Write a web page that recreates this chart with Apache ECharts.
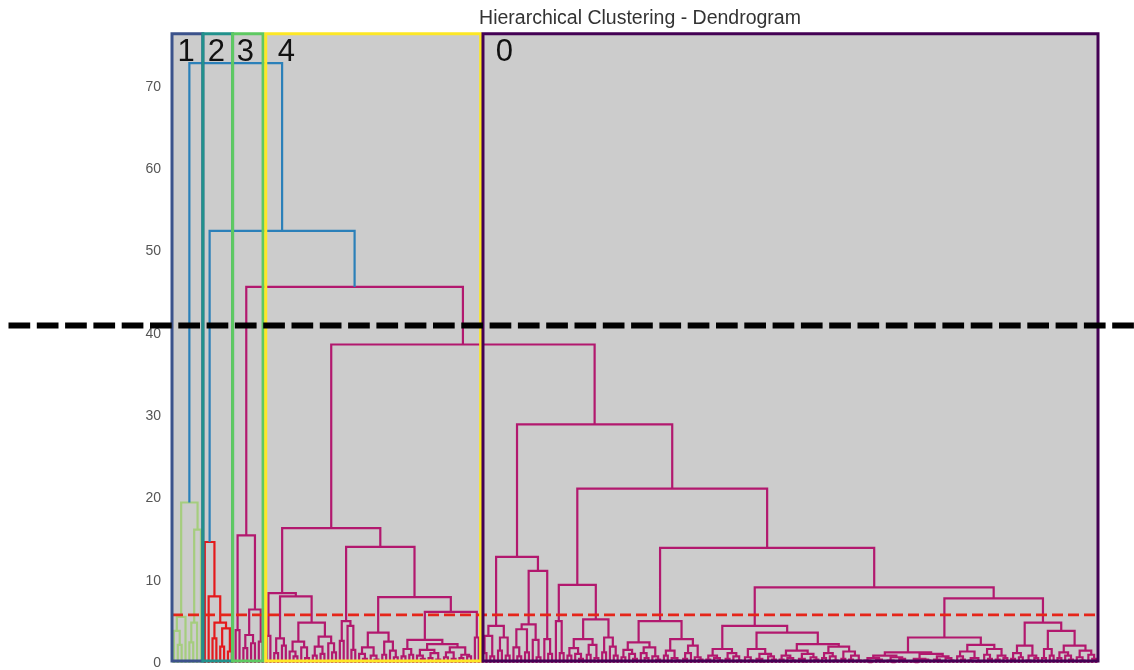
<!DOCTYPE html>
<html>
<head>
<meta charset="utf-8">
<script src="https://cdn.jsdelivr.net/npm/echarts@6/dist/echarts.min.js"></script>
<style>
html,body{margin:0;padding:0;background:#ffffff;}
#chart{width:1134px;height:670px;}
</style>
</head>
<body>
<div id="chart"></div>
<script>
// ---------------- data ----------------
const chartTitle = 'Hierarchical Clustering - Dendrogram';
const yTicks = [0, 10, 20, 30, 40, 50, 60, 70];
const yMax = 76.55;

// merge heights joining the clusters (root first)
const upperMergeHeights = [72.9, 52.5, 45.7, 38.7];
const colorThreshold = 51.0;

// dendrogram subtrees: [height, left, right], 0 = a leaf
const cluster1Tree = [19.5, [5.6, [3.9, 0, [2.2, 0, 0]], 0], [16.2, [4.9, [2.5, 0, 0], 0], 0]];
const cluster2Tree = [14.7, 0, [8.1, 0, [4.9, [3.0, 0, 0], [4.2, [2.0, 0, 0], [1.4, 0, 0]]]]];
const cluster3Tree = [15.5, [4.0, 0, 0], [6.5, [3.4, [1.8, 0, 0], [2.4, 0, 0]], [2.6, 0, 0]]];

const c4P = [8.5, [3.3, 0, 0],
  [8.1, [3.0, [1.2, 0, 0], [2.1, 0, 0]],
        [4.9, [2.6, [1.4, 0, [0.8, 0, 0]], [1.9, 0, [0.6, 0, 0]]],
              [3.2, [2.0, [0.9, 0, 0], [1.1, 0, 0]], [2.4, 0, [1.3, 0, 0]]]]]];
const c4Q1 = [5.1, [2.7, 0, 0], [4.5, 0, [1.6, 0, 0]]];
const c4Q2a = [3.7, [1.9, [1.1, 0, [0.5, 0, 0]], [0.9, 0, [0.4, 0, 0]]],
                    [2.6, [1.0, 0, 0], [1.5, 0, [0.7, 0, 0]]]];
const c4Q2b = [6.2, [2.8, [1.7, [0.8, 0, 0], [1.0, 0, 0]],
                          [2.3, [1.6, [0.9, 0, [0.5, 0, 0]], [1.2, [0.6, 0, 0], [0.4, 0, 0]]],
                                [1.9, [1.3, [0.7, 0, 0], [0.5, 0, 0]], [1.0, [0.6, 0, 0], [0.8, 0, 0]]]]],
                    [3.1, 0, 0]];
const cluster4Tree = [16.4, c4P, [14.1, c4Q1, [8.0, c4Q2a, c4Q2b]]];

const c0A1 = [4.5, [3.3, [1.2, 0, 0], [0.8, 0, 0]], [3.1, [1.5, 0, 0], [0.9, 0, 0]]];
const c0A2 = [11.2, [4.7, [4.1, [1.9, 0, [0.8, 0, 0]], [1.3, 0, 0]], [2.8, 0, [0.7, 0, 0]]],
                    [2.9, 0, [1.1, 0, 0]]];
const c0B1 = [9.5, [5.1, 0, [1.2, 0, 0]],
                   [5.3, [2.9, [1.8, [0.9, 0, 0], [1.1, 0, [0.5, 0, 0]]], [2.2, [1.0, 0, 0], [0.6, 0, 0]]],
                         [3.1, [1.3, 0, 0], [2.0, 0, [0.9, 0, 0]]]]];
const c0B2a = [5.1, [2.5, [1.6, [0.7, 0, 0], [1.1, 0, [0.5, 0, 0]]], [1.9, [1.2, 0, [0.6, 0, 0]], [0.8, 0, [0.4, 0, 0]]]],
                    [2.9, [1.5, [0.9, 0, 0], [0.6, 0, [0.3, 0, 0]]], [2.1, [1.2, [0.5, 0, 0], 0], [0.7, 0, [0.4, 0, 0]]]]];
const c0B2bL = [4.5, [1.7, [0.9, [0.4, 0, 0], [0.6, 0, [0.3, 0, 0]]], [1.2, [0.5, 0, 0], [0.8, 0, [0.3, 0, 0]]]],
                     [3.7, [1.7, [0.7, 0, [0.3, 0, 0]], [1.1, [0.5, 0, [0.2, 0, 0]], [0.8, 0, [0.4, 0, 0]]]],
                           [2.3, [1.5, [0.9, [0.4, 0, 0], [0.6, 0, [0.3, 0, 0]]], [1.1, [0.5, 0, [0.2, 0, 0]], [0.7, 0, [0.4, 0, 0]]]],
                                 [2.0, [1.2, [0.6, 0, 0], [0.8, 0, [0.3, 0, 0]]], [1.4, [0.5, 0, 0], [0.9, [0.4, 0, 0], [0.3, 0, 0]]]]]]];
const c0B2bR1 = [3.1, [1.3, [0.9, [0.6, [0.3, 0, [0.1, 0, 0]], [0.4, 0, [0.2, 0, 0]]], [0.7, [0.3, 0, [0.1, 0, 0]], [0.5, 0, [0.2, 0, 0]]]],
                            [1.1, [0.5, [0.2, 0, [0.1, 0, 0]], [0.4, 0, [0.3, 0, 0]]], [0.8, [0.4, 0, [0.2, 0, 0]], [0.6, 0, [0.3, 0, 0]]]]],
                      [2.2, [1.4, [0.8, 0, [0.4, 0, 0]], [0.6, [0.3, 0, 0], [0.2, 0, 0]]], [1.7, [1.0, 0, [0.5, 0, 0]], [0.9, [0.4, 0, 0], [0.6, 0, 0]]]]];
const c0B2bR2 = [4.9, [2.1, [1.2, [0.5, 0, 0], [0.7, 0, 0]], [0.9, [0.3, 0, 0], [0.6, 0, 0]]],
                      [3.9, [1.7, [0.6, 0, 0], [0.9, 0, 0]],
                            [2.1, [1.3, [0.6, 0, 0], [0.9, 0, [0.4, 0, 0]]], [1.5, [0.7, 0, [0.3, 0, 0]], [1.0, 0, [0.5, 0, 0]]]]]];
const cluster0Tree = [29.0, [12.9, c0A1, c0A2],
                            [21.2, c0B1, [14.0, c0B2a, [9.2, c0B2bL, [7.85, c0B2bR1, c0B2bR2]]]]];

// colours
const aboveThresholdColor = '#2b80b9';
const clusterLinkColors = ['#a5cd7e', '#e41a1c', '#b2186e'];
const redCut = 5.85;
const redCutColor = '#e5261a';
const blackCut = 41.0;

// cluster annotation boxes (x range in leaf units), drawn in this order
const clusterNames = ['1', '2', '3', '4', '0'];
const clusterBoxes = [[0, 8.0], [8.0, 15.7], [15.7, 23.6], [24.3, 80.0], [80.6, 240]];
const boxColors = ['#3b528b', '#21918c', '#5ec962', '#fde725', '#440154'];
const boxYRange = [0.25, 76.45];
const labelAnchors = [[1.43, 74.18], [9.28, 74.18], [16.8, 74.18], [27.4, 74.18], [83.9, 74.18]];

// ---------------- build links ----------------
const fullTree = [upperMergeHeights[0], cluster1Tree,
  [upperMergeHeights[1], cluster2Tree,
    [upperMergeHeights[2], cluster3Tree,
      [upperMergeHeights[3], cluster4Tree, cluster0Tree]]]];

const links = [];
const palette = [aboveThresholdColor].concat(clusterLinkColors);
let leafCounter = 0;
let subtreeCounter = 0;
function walk(node, colorIdx) {
  if (node === 0) {
    const x = leafCounter + 0.5;
    leafCounter++;
    return { x: x, h: 0 };
  }
  const h = node[0];
  let c = colorIdx;
  if (c === 0 && h <= colorThreshold) {
    subtreeCounter++;
    c = subtreeCounter;
  }
  const L = walk(node[1], c);
  const R = walk(node[2], c);
  links.push([L.x, L.h, R.x, R.h, h, c]);
  return { x: (L.x + R.x) / 2, h: h };
}
walk(fullTree, 0);
const leafCount = leafCounter;

// ---------------- chart ----------------
const chart = echarts.init(document.getElementById('chart'), null, { renderer: 'canvas' });
const gridLeft = 172, gridRight = 36, gridTop = 33, gridBottom = 6;
const fontFam = '"Liberation Sans", Arial, sans-serif';

chart.setOption({
  animation: false,
  backgroundColor: '#ffffff',
  title: {
    text: chartTitle,
    left: gridLeft + (1134 - gridLeft - gridRight) / 2,
    top: 4,
    textAlign: 'center',
    textStyle: { fontSize: 19.5, fontWeight: 'normal', color: '#333333', fontFamily: fontFam }
  },
  grid: {
    left: gridLeft, right: gridRight, top: gridTop, bottom: gridBottom,
    show: true, backgroundColor: '#cccccc', borderWidth: 0
  },
  xAxis: { type: 'value', min: 0, max: leafCount, show: false },
  yAxis: {
    type: 'value', min: yTicks[0], max: yMax, interval: yTicks[1] - yTicks[0],
    axisLine: { show: false }, axisTick: { show: false }, splitLine: { show: false },
    axisLabel: { showMaxLabel: false, fontSize: 14, color: '#555555', margin: 11, fontFamily: fontFam }
  },
  series: [
    {
      type: 'custom', name: 'dendrogram', z: 2, silent: true,
      encode: { x: [0, 2], y: [1, 4] },
      data: links,
      renderItem: function (params, api) {
        const x1 = api.value(0), h1 = api.value(1), x2 = api.value(2), h2 = api.value(3), h = api.value(4);
        const pts = [api.coord([x1, h1]), api.coord([x1, h]), api.coord([x2, h]), api.coord([x2, h2])];
        return {
          type: 'polyline', shape: { points: pts },
          style: { stroke: palette[api.value(5)], lineWidth: 2.2, fill: 'none' }
        };
      }
    },
    {
      type: 'line', name: 'colour cut', z: 3, silent: true, showSymbol: false, symbol: 'none',
      data: [[0, redCut], [leafCount, redCut]],
      lineStyle: { color: redCutColor, width: 2.8, type: [11, 5] }
    },
    {
      type: 'custom', name: 'boxes', z: 4, silent: true,
      encode: { x: [0, 1] },
      data: clusterBoxes,
      renderItem: function (params, api) {
        const p0 = api.coord([api.value(0), boxYRange[1]]);
        const p1 = api.coord([api.value(1), boxYRange[0]]);
        return {
          type: 'rect',
          shape: { x: p0[0], y: p0[1], width: p1[0] - p0[0], height: p1[1] - p0[1] },
          style: { fill: 'none', stroke: boxColors[params.dataIndex], lineWidth: 3 }
        };
      }
    },
    {
      type: 'custom', name: 'cut', z: 5, silent: true, clip: false,
      encode: { x: 0, y: 1 },
      data: [[0, blackCut]],
      renderItem: function (params, api) {
        const y = api.coord([api.value(0), api.value(1)])[1];
        return {
          type: 'line',
          shape: { x1: 8.5, y1: y, x2: api.getWidth(), y2: y },
          style: { stroke: '#000000', lineWidth: 6, lineDash: [21.7, 6.6] }
        };
      }
    },
    {
      type: 'custom', name: 'labels', z: 6, silent: true, clip: false,
      encode: { x: 0, y: 1 },
      data: labelAnchors,
      renderItem: function (params, api) {
        const p = api.coord([api.value(0), api.value(1)]);
        return {
          type: 'text', x: p[0], y: p[1],
          style: {
            text: clusterNames[params.dataIndex], fontSize: 31, fontFamily: fontFam,
            fill: '#111111', align: 'left', verticalAlign: 'middle'
          }
        };
      }
    }
  ]
});
</script>
</body>
</html>
